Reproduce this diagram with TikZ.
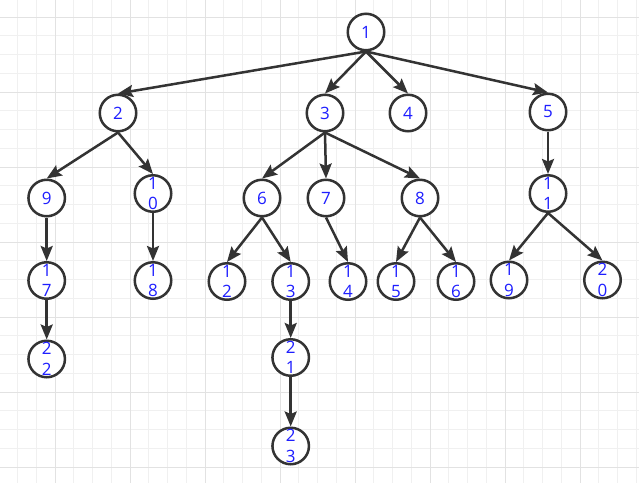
\documentclass[tikz,border=0pt]{standalone}
\usepackage{fontspec}
\setmainfont{Open Sans}
\usetikzlibrary{arrows.meta}
\definecolor{TreeLine}{RGB}{51,51,51}
\definecolor{TreeText}{RGB}{30,30,255}
\definecolor{GridMinor}{RGB}{240,240,240}
\definecolor{GridMajor}{RGB}{226,226,226}

\begin{document}
\begin{tikzpicture}[x=1pt, y=-1pt,
          vnode/.style={circle, draw=TreeLine, line width=2.5pt, fill=white,
                        minimum size=36.5pt, inner sep=0pt, text=TreeText,
                        font=\fontsize{17}{20.5}\selectfont, align=center},
          arr/.style={-{Stealth[length=15pt,width=12pt,inset=2.5pt]},
                      line width=2.5pt, TreeLine}
        ]
        % background grid
        \fill[white] (0,0) rectangle (639,483);
        \useasboundingbox (0,0) rectangle (639,483);
        \foreach \k in {1,...,34}
              \draw[GridMinor, line width=1pt] ({-1.25+18.75*\k},0) -- ++(0,483);
        \foreach \k in {1,...,25}
              \draw[GridMinor, line width=1pt] (0,{-1.75+18.75*\k}) -- ++(639,0);
        \foreach \m in {0,...,7}
              \draw[GridMajor, line width=1pt] ({55+75*\m},0) -- ++(0,483);
        \foreach \m in {0,...,6}
              \draw[GridMajor, line width=1pt] (0,{17+75*\m}) -- ++(639,0);

        \node[vnode] (n1)  at (366,32)      {1};
        \node[vnode] (n2)  at (118,113)     {2};
        \node[vnode] (n3)  at (325,113)     {3};
        \node[vnode] (n4)  at (408,113)     {4};
        \node[vnode] (n5)  at (548,112)     {5};
        \node[vnode] (n9)  at (46.7,198)    {9};
        \node[vnode] (n10) at (153,193.5)   {1\\0};
        \node[vnode] (n6)  at (262,198)     {6};
        \node[vnode] (n7)  at (326,198)     {7};
        \node[vnode] (n8)  at (420,198)     {8};
        \node[vnode] (n11) at (548,193.5)   {1\\1};
        \node[vnode] (n17) at (46.7,280.5)  {1\\7};
        \node[vnode] (n18) at (153,280.5)   {1\\8};
        \node[vnode] (n12) at (227,281.5)   {1\\2};
        \node[vnode] (n13) at (290.7,281.5) {1\\3};
        \node[vnode] (n14) at (348,281.5)   {1\\4};
        \node[vnode] (n15) at (396,281.5)   {1\\5};
        \node[vnode] (n16) at (456,281.5)   {1\\6};
        \node[vnode] (n19) at (509,280)     {1\\9};
        \node[vnode] (n20) at (602.5,280)   {2\\0};
        \node[vnode] (n22) at (46.7,359)    {2\\2};
        \node[vnode] (n21) at (290.7,357.5) {2\\1};
        \node[vnode] (n23) at (290.7,446)   {2\\3};

        \foreach \p/\c in {n1/n2, n1/n3, n1/n4, n1/n5, n2/n9, n2/n10,
                           n3/n6, n3/n7, n3/n8, n5/n11, n9/n17, n10/n18,
                           n6/n12, n6/n13, n7/n14, n8/n15, n8/n16,
                           n11/n19, n11/n20, n17/n22, n13/n21, n21/n23}
              \draw[arr] (\p.south) -- (\c.north);
      \end{tikzpicture}
\end{document}
